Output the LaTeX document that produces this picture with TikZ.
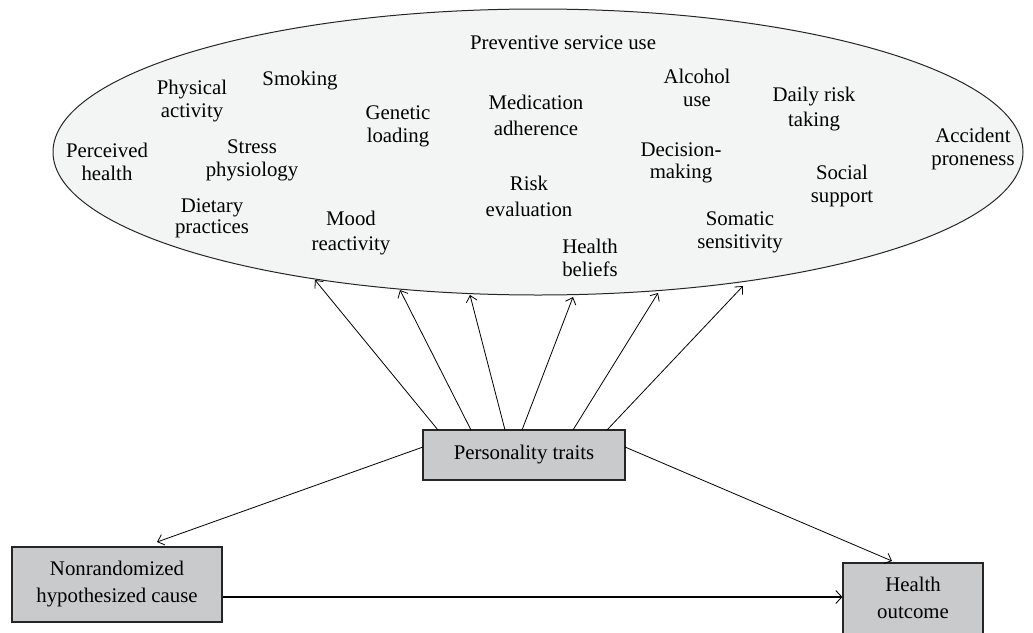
\documentclass[tikz,border=0pt]{standalone}
\usepackage{fontspec}
\setmainfont{Liberation Serif}
\usetikzlibrary{arrows.meta,shapes.geometric}
\begin{document}
\begin{tikzpicture}[x=1pt,y=-1pt,
  lbl/.style={align=center,inner sep=0pt,font=\fontsize{20.8}{23}\selectfont},
  gbox/.style={draw=black!85,line width=1.2pt,fill=boxgray,inner sep=0pt},
  arr/.style={line width=0.8pt,-{Straight Barb[length=6pt,width=11pt]}},
  thick arr/.style={line width=2.4pt,-{Straight Barb[length=6pt,width=13pt,line width=0.9pt]}}]
\definecolor{boxgray}{HTML}{C9CACC}
\definecolor{ellfill}{HTML}{F3F4F4}
\useasboundingbox (0,0) rectangle (1033,632);
% ellipse
\node[ellipse,draw=black!85,line width=1pt,fill=ellfill,minimum width=970pt,minimum height=286pt,inner sep=0pt] (ell) at (538,152) {};
% labels inside ellipse
\node[lbl] (t1) at (563,43) {Preventive service use};
\node[lbl] (t2) at (192,101) {Physical\\activity};
\node[lbl] (t3) at (300,81) {Smoking};
\node[lbl] (t4) at (398,126) {Genetic\\loading};
\node[lbl] (t5) at (107,162) {Perceived\\health};
\node[lbl] (t6) at (252,160) {Stress\\physiology};
\node[lbl,font=\fontsize{20.8}{21}\selectfont] (t7) at (212,218) {Dietary\\practices};
\node[lbl,font=\fontsize{20.8}{25}\selectfont] (t8) at (351,233) {Mood\\reactivity};
\node[lbl,font=\fontsize{20.8}{26}\selectfont] (t9) at (536,115) {Medication\\adherence};
\node[lbl,font=\fontsize{20.8}{26}\selectfont] (t10) at (529,196) {Risk\\evaluation};
\node[lbl] (t11) at (590,258) {Health\\beliefs};
\node[lbl] (t12) at (697,88) {Alcohol\\use};
\node[lbl,font=\fontsize{20.8}{22}\selectfont] (t13) at (681,163) {Decision-\\making};
\node[lbl,font=\fontsize{20.8}{25}\selectfont] (t14) at (814,109) {Daily risk\\taking};
\node[lbl] (t15) at (842,186) {Social\\support};
\node[lbl] (t16) at (740,232) {Somatic\\sensitivity};
\node[lbl] (t17) at (973,149) {Accident\\proneness};
% boxes
\node[gbox,minimum width=202pt,minimum height=50pt] (pt) at (524,455) {};
\node[lbl] (ptl) at (524,455) {Personality traits};
\node[gbox,minimum width=210pt,minimum height=75pt] (nc) at (117,584.5) {};
\node[lbl,font=\fontsize{20.8}{27}\selectfont] (ncl) at (117,584) {Nonrandomized\\hypothesized cause};
\node[gbox,minimum width=140pt,minimum height=71pt] (ho) at (913,598.5) {};
\node[lbl,font=\fontsize{20.8}{27}\selectfont] (hol) at (913,598) {Health\\outcome};
% start points on personality box
\coordinate (s1) at (438,430);
\coordinate (s2) at (471,430);
\coordinate (s3) at (505,430);
\coordinate (s4) at (522,430);
\coordinate (s5) at (573,430);
\coordinate (s6) at (607,430);
% ends on ellipse
\coordinate (e1) at (315,280);
\coordinate (e2) at (400,290);
\coordinate (e3) at (470,295);
\coordinate (e4) at (573,297);
\coordinate (e5) at (658,293);
\coordinate (e6) at (743,286);
\foreach \i in {1,...,6}{\draw[arr] (s\i) -- (e\i);}
% other connectors
\coordinate (pl) at (423,447);
\coordinate (pr) at (625,447);
\coordinate (ncin) at (157,542);
\coordinate (hoin) at (892,561);
\draw[arr] (pl) -- (ncin);
\draw[arr] (pr) -- (hoin);
\draw[thick arr] (nc.east |- 0,597) -- (ho.west |- 0,597);
\end{tikzpicture}
\end{document}
